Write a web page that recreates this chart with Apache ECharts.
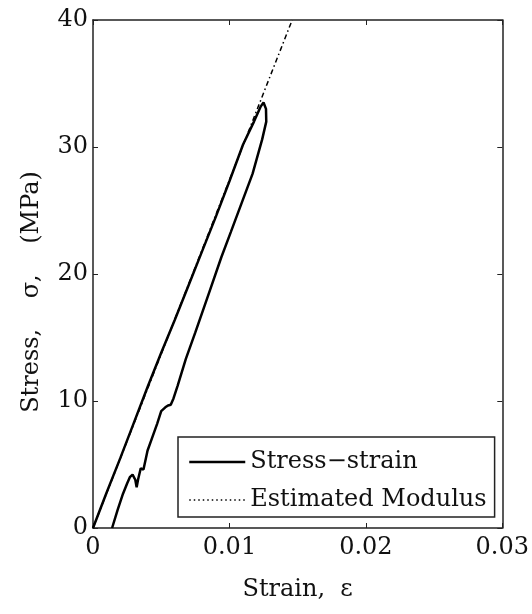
<!DOCTYPE html>
<html>
<head>
<meta charset="utf-8">
<script src="https://cdn.jsdelivr.net/npm/echarts@6/dist/echarts.min.js"></script>
<style>
html,body{margin:0;padding:0;background:#fff;}
#chart{width:532px;height:614px;}
</style>
</head>
<body>
<div id="chart"></div>
<script>
// Stress-strain loop (loading then unloading)
var strain = [0, 0.0005, 0.001, 0.002, 0.003, 0.004, 0.005, 0.006, 0.007, 0.008, 0.009, 0.010, 0.011, 0.0118, 0.0123, 0.0125,
  0.01268, 0.0127, 0.0124, 0.0117, 0.0109, 0.0101, 0.0094, 0.0085, 0.0075, 0.0068, 0.0062, 0.0059, 0.0057, 0.0055, 0.0053, 0.0050,
  0.0047, 0.0043, 0.0040, 0.0037, 0.0035, 0.0034, 0.0033, 0.0032, 0.0031, 0.0029, 0.0027, 0.0025, 0.0022, 0.0018, 0.0014];
var stress = [0, 1.4, 2.8, 5.5, 8.3, 11.1, 13.8, 16.4, 19.1, 21.8, 24.5, 27.3, 30.2, 32.0, 33.2, 33.5,
  33.0, 32.0, 30.6, 27.9, 25.6, 23.3, 21.3, 18.5, 15.4, 13.3, 11.2, 10.2, 9.7, 9.65, 9.5, 9.2,
  8.2, 7.0, 6.1, 4.6, 4.7, 4.6, 3.8, 3.2, 3.8, 4.2, 4.0, 3.5, 2.7, 1.4, 0];
// Estimated modulus line
var modulusStrain = [0, 0.0146];
var modulusStress = [0, 40];
// Axis tick labels
var xTickLabels = ['0', '0.01', '0.02', '0.03'];
var yTickLabels = ['0', '10', '20', '30', '40'];
var seriesNames = ['Stress\u2212strain', 'Estimated Modulus'];

function zip(a, b) { return a.map(function (v, i) { return [v, b[i]]; }); }

var FONT = 'DejaVu Serif';
var AX = '#222';
var chart = echarts.init(document.getElementById('chart'), null, {renderer: 'canvas'});

var xBase = {
  type: 'value', min: 0, max: 0.03, interval: 0.01,
  axisLine: {show: true, onZero: false, lineStyle: {color: AX, width: 1.5}},
  axisTick: {show: true, inside: true, length: 5, lineStyle: {color: AX, width: 1}},
  splitLine: {show: false}
};
var yBase = {
  type: 'value', min: 0, max: 40, interval: 10,
  axisLine: {show: true, onZero: false, lineStyle: {color: AX, width: 1.5}},
  axisTick: {show: true, inside: true, length: 5, lineStyle: {color: AX, width: 1}},
  splitLine: {show: false}
};

var option = {
  backgroundColor: '#fff',
  animation: false,
  grid: {left: 93, right: 29, top: 20, bottom: 86, containLabel: false},
  xAxis: [
    Object.assign({}, xBase, {
      position: 'bottom',
      name: 'Strain,  \u03b5', nameLocation: 'middle', nameGap: 50,
      nameTextStyle: {fontFamily: FONT, fontSize: 24, color: '#111'},
      axisLabel: {show: true, margin: 8, fontFamily: FONT, fontSize: 24, color: '#111',
        formatter: function (v) { return xTickLabels[Math.round(v / 0.01)]; }}
    }),
    Object.assign({}, xBase, {position: 'top', axisLabel: {show: false}})
  ],
  yAxis: [
    Object.assign({}, yBase, {
      position: 'left',
      axisLabel: {show: true, margin: 5, fontFamily: FONT, fontSize: 24, color: '#111',
        formatter: function (v) { return yTickLabels[Math.round(v / 10)]; }}
    }),
    Object.assign({}, yBase, {position: 'right', axisLabel: {show: false}})
  ],
  graphic: [{
    type: 'text', x: 32, y: 292, rotation: Math.PI / 2,
    style: {text: 'Stress,    \u03c3,    (MPa)', fontFamily: FONT, fontSize: 24, fill: '#111',
      textAlign: 'center', textVerticalAlign: 'middle'}
  }],
  legend: {
    show: true,
    orient: 'vertical', left: 178, top: 437,
    padding: [13, 8, 5, 10],
    itemGap: 14, itemWidth: 56, itemHeight: 14,
    borderColor: AX, borderWidth: 1.5, backgroundColor: '#fff',
    textStyle: {fontFamily: FONT, fontSize: 24, color: '#111'},
    data: [
      {name: seriesNames[0], lineStyle: {type: 'solid', width: 2.5, color: '#000'},
        itemStyle: {opacity: 0, borderWidth: 0}},
      {name: seriesNames[1], lineStyle: {type: [1.5, 3], width: 1.5, color: '#000'},
        itemStyle: {opacity: 0, borderWidth: 0}}
    ]
  },
  series: [
    {
      name: seriesNames[0], type: 'line', xAxisIndex: 0, yAxisIndex: 0,
      data: zip(strain, stress), symbol: 'none', smooth: false,
      lineStyle: {color: '#000', width: 2.5}, itemStyle: {color: '#000'}, z: 3
    },
    {
      name: seriesNames[1], type: 'line', xAxisIndex: 0, yAxisIndex: 0,
      data: zip(modulusStrain, modulusStress), symbol: 'none',
      lineStyle: {color: '#000', width: 1.5, type: [5, 3, 1.5, 3]}, itemStyle: {color: '#000'}, z: 4
    }
  ]
};
chart.setOption(option);
</script>
</body>
</html>
